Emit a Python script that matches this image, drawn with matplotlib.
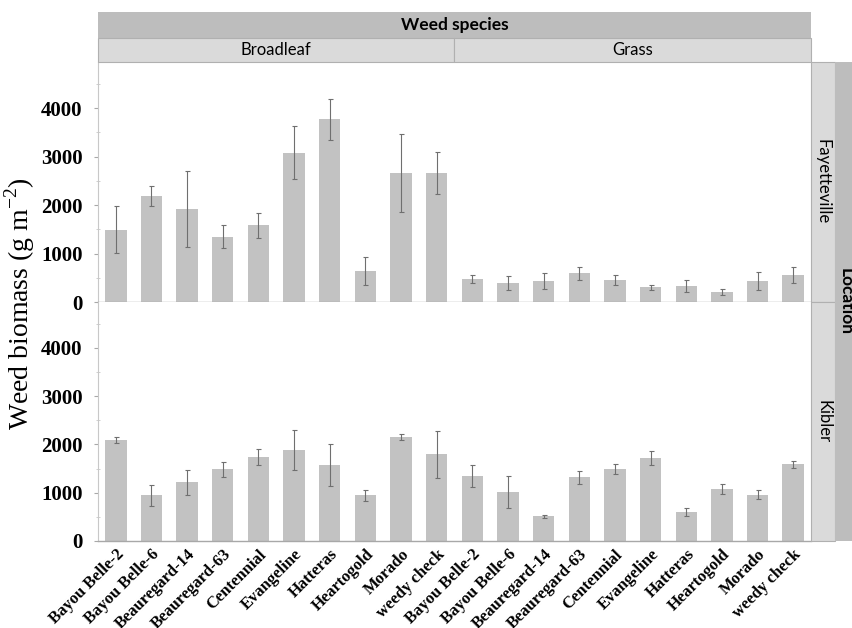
import matplotlib
matplotlib.use("Agg")
import matplotlib.pyplot as plt
from matplotlib.patches import Rectangle
from matplotlib.ticker import MultipleLocator
import numpy as np

cultivars = ["Bayou Belle-2", "Bayou Belle-6", "Beauregard-14", "Beauregard-63",
             "Centennial", "Evangeline", "Hatteras", "Heartogold", "Morado", "weedy check"]
weed_types = ["Broadleaf", "Grass"]
locations = ["Fayetteville", "Kibler"]

# Fayetteville
fay_broadleaf = [1490, 2190, 1920, 1350, 1580, 3080, 3765, 645, 2660, 2665]
fay_broadleaf_err = [480, 210, 780, 240, 265, 550, 420, 290, 810, 430]
fay_grass = [473, 391, 438, 597, 453, 300, 335, 206, 438, 562]
fay_grass_err = [90, 140, 160, 135, 110, 55, 125, 60, 190, 170]
# Kibler
kib_broadleaf = [2090, 945, 1220, 1483, 1738, 1876, 1580, 945, 2151, 1793]
kib_broadleaf_err = [60, 210, 260, 150, 165, 415, 435, 110, 55, 480]
kib_grass = [1338, 1014, 511, 1318, 1497, 1717, 600, 1076, 959, 1586]
kib_grass_err = [228, 340, 35, 140, 105, 140, 90, 105, 95, 80]

W, H = 853, 628
fig = plt.figure(figsize=(W / 100, H / 100), dpi=100)

def fx(px):
    return px / W

def fy(py):
    return 1 - py / H

ax_left, ax_right = 98, 811
panels = [(62, 302), (302, 541)]
data = [(fay_broadleaf + fay_grass, fay_broadleaf_err + fay_grass_err),
        (kib_broadleaf + kib_grass, kib_broadleaf_err + kib_grass_err)]

labels = cultivars + cultivars
x = np.arange(len(labels))
bar_color = "#c2c2c2"
tick_font = dict(family="Liberation Serif", weight="bold")

axes = []
for (top, bot), (vals, errs) in zip(panels, data):
    ax = fig.add_axes([fx(ax_left), fy(bot), fx(ax_right) - fx(ax_left), (bot - top) / H])
    ax.bar(x, vals, width=0.6, color=bar_color, zorder=2)
    ax.errorbar(x, vals, yerr=errs, fmt="none", ecolor="#6f6f6f", elinewidth=0.8,
                capsize=1.8, capthick=0.8, zorder=3)
    ax.set_xlim(-0.5, len(labels) - 0.5)
    ax.set_ylim(0, 4950)
    ax.yaxis.set_minor_locator(MultipleLocator(500))
    for s in ["top", "right"]:
        ax.spines[s].set_visible(False)
    ax.spines["left"].set_color("#c8c8c8")
    ax.spines["bottom"].set_color("#a8a8a8")
    ax.spines["left"].set_linewidth(0.8)
    ax.spines["bottom"].set_linewidth(1.0)
    ax.set_yticks([0, 1000, 2000, 3000, 4000])
    ax.set_yticklabels(["0", "1000", "2000", "3000", "4000"], fontsize=15, **tick_font)
    ax.tick_params(axis="y", which="major", length=3, color="#a8a8a8", pad=8)
    ax.tick_params(axis="y", which="minor", length=2.5, direction="inout", color="#c8c8c8")
    ax.tick_params(axis="x", length=0)
    axes.append(ax)

axes[0].set_xticks([])
axes[1].set_xticks(x)
axes[1].set_xticklabels(labels, rotation=45, ha="right", va="top", rotation_mode="anchor",
                        fontsize=12, **tick_font)
axes[1].tick_params(axis="x", pad=4)

# Y label
fig.text(fx(20), fy(304), "Weed biomass (g m$^{\\mathregular{-2}}$)", rotation=90,
         ha="center", va="center", fontsize=20, family="Liberation Serif")

dark = "#bdbdbd"
light = "#dadada"
edge = "#b0b0b0"
strip_font = "Lato"

# Top strips
fig.patches.append(Rectangle((fx(ax_left), fy(38)), fx(ax_right) - fx(ax_left), (38 - 12) / H,
                             transform=fig.transFigure, facecolor=dark, edgecolor="none"))
fig.text((fx(ax_left) + fx(ax_right)) / 2, fy(25), "Weed species", ha="center", va="center",
         fontsize=12.5, fontweight="bold", family=strip_font)
mid = (ax_left + ax_right) / 2
for (x0, x1), name in zip([(ax_left, mid), (mid, ax_right)], weed_types):
    fig.patches.append(Rectangle((fx(x0), fy(62)), fx(x1) - fx(x0), (62 - 38) / H,
                                 transform=fig.transFigure, facecolor=light, edgecolor=edge,
                                 linewidth=0.8))
    fig.text((fx(x0) + fx(x1)) / 2, fy(50), name, ha="center", va="center",
             fontsize=12, family=strip_font)

# Right strips
for (top, bot), name in zip(panels, locations):
    fig.patches.append(Rectangle((fx(811), fy(bot)), fx(835) - fx(811), (bot - top) / H,
                                 transform=fig.transFigure, facecolor=light, edgecolor=edge,
                                 linewidth=0.8))
    fig.text((fx(811) + fx(835)) / 2, fy((top + bot) / 2), name, rotation=-90,
             ha="center", va="center", fontsize=12, family=strip_font)
fig.patches.append(Rectangle((fx(835), fy(541)), fx(853) - fx(835), (541 - 62) / H,
                             transform=fig.transFigure, facecolor=dark, edgecolor="none"))
fig.text(fx(846), fy(302), "Location", rotation=-90,
         ha="center", va="center", fontsize=12.5, fontweight="bold", family=strip_font)

fig.savefig("out.png", dpi=100)
